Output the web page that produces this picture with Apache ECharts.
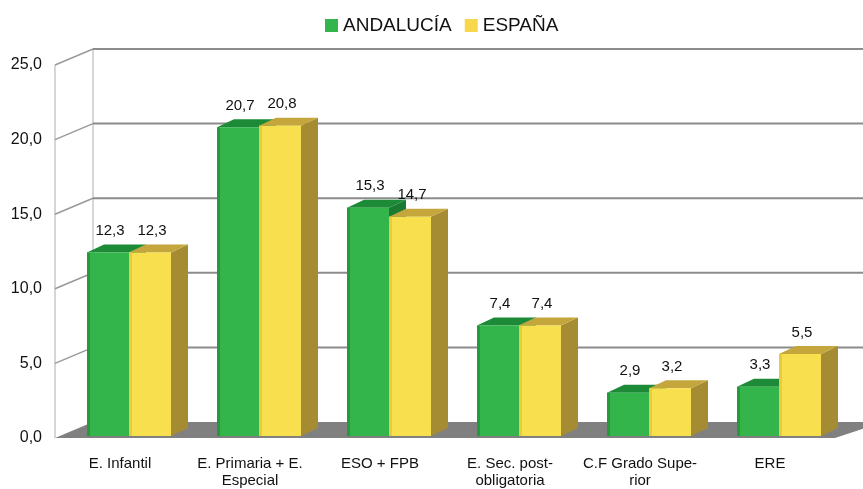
<!DOCTYPE html>
<html>
<head>
<meta charset="utf-8">
<script src="https://cdn.jsdelivr.net/npm/echarts@6/dist/echarts.min.js"></script>
<style>
  html, body { margin: 0; padding: 0; background: #fff; }
  #chart { width: 863px; height: 489px; }
</style>
</head>
<body>
<div id="chart"></div>
<script>
// datos
const categorias = [
  "E. Infantil",
  "E. Primaria + E.\nEspecial",
  "ESO + FPB",
  "E. Sec. post-\nobligatoria",
  "C.F Grado Supe-\nrior",
  "ERE"
];
const andalucia = [12.3, 20.7, 15.3, 7.4, 2.9, 3.3];
const espana = [12.3, 20.8, 14.7, 7.4, 3.2, 5.5];
const yTicks = [0, 5, 10, 15, 20, 25];

// profundidad de la caja 3D y de las barras
const WALL_DX = 38, WALL_DY = -16;
const BAR_DX = 17, BAR_DY = -8;
const BAR_OFF_X = 9, BAR_OFF_Y = -2;

const colores = [
  { front: "#33b54c", top: "#1d8a37", side: "#1a7a31", edge: "#249a3c" },
  { front: "#f8df4e", top: "#c4a63c", side: "#a58c33", edge: "#e8cc3e" }
];

const fmt = (v) => v.toFixed(1).replace(".", ",");

const chart = echarts.init(document.getElementById("chart"));

// barras con caras frontal, superior y lateral
const barra3d = (idx) => (params, api) => {
  const c = colores[idx];
  const band = api.size([1, 0])[0];
  const w = band * 0.323;
  const cx = api.coord([api.value(0), 0])[0];
  const left = cx - w + idx * w + BAR_OFF_X;
  const top = api.coord([api.value(0), api.value(1)])[1] + BAR_OFF_Y;
  const bottom = api.coord([api.value(0), 0])[1] + BAR_OFF_Y;
  const right = left + w;
  return {
    type: "group",
    children: [
      {
        type: "polygon",
        shape: { points: [[right, top], [right + BAR_DX, top + BAR_DY], [right + BAR_DX, bottom + BAR_DY], [right, bottom]] },
        style: { fill: c.side }
      },
      {
        type: "polygon",
        shape: { points: [[left, top], [left + BAR_DX, top + BAR_DY], [right + BAR_DX, top + BAR_DY], [right, top]] },
        style: { fill: c.top }
      },
      {
        type: "rect",
        shape: { x: left, y: top, width: w, height: bottom - top },
        style: { fill: c.front }
      },
      {
        type: "rect",
        shape: { x: left, y: top, width: 3, height: bottom - top },
        style: { fill: c.edge }
      },
      {
        type: "text",
        style: {
          text: fmt(api.value(1)),
          x: left + w / 2 + 2,
          y: top + BAR_DY - 6,
          align: "center",
          verticalAlign: "bottom",
          fill: "#111",
          font: "15px 'Liberation Sans', Arial, sans-serif"
        }
      }
    ]
  };
};

// paredes, rejilla y suelo
const paredes = (params, api) => {
  const cs = params.coordSys;
  const v = api.value(1);
  const y = api.coord([0, v])[1];
  const x0 = cs.x;
  const children = [];
  if (v === 0) {
    children.push({
      type: "polygon",
      shape: { points: [[x0, y], [x0 + WALL_DX, y + WALL_DY], [x0 + cs.width + WALL_DX + 10, y + WALL_DY], [x0 + cs.width, y]] },
      style: { fill: "#808080" }
    });
    const yTop = api.coord([0, 25])[1];
    children.push({
      type: "line",
      shape: { x1: x0, y1: yTop, x2: x0, y2: y },
      style: { stroke: "#c8c8c8", lineWidth: 1.5 }
    });
    children.push({
      type: "line",
      shape: { x1: x0 + WALL_DX, y1: yTop + WALL_DY, x2: x0 + WALL_DX, y2: y + WALL_DY },
      style: { stroke: "#c8c8c8", lineWidth: 1.5 }
    });
  } else {
    children.push({
      type: "line",
      shape: { x1: x0, y1: y, x2: x0 + WALL_DX, y2: y + WALL_DY },
      style: { stroke: "#9a9a9a", lineWidth: 1.5 }
    });
    children.push({
      type: "line",
      shape: { x1: x0 + WALL_DX, y1: y + WALL_DY, x2: 870, y2: y + WALL_DY },
      style: { stroke: "#8c8c8c", lineWidth: 2 }
    });
  }
  return { type: "group", children };
};

chart.setOption({
  animation: false,
  textStyle: { fontFamily: "'Liberation Sans', Arial, sans-serif" },
  legend: {
    data: ["ANDALUCÍA", "ESPAÑA"],
    top: 11,
    left: 320,
    icon: "rect",
    itemWidth: 13,
    itemHeight: 13,
    itemGap: 13,
    textStyle: { fontSize: 19, color: "#111" }
  },
  grid: { left: 55, right: 28, top: 65, bottom: 51 },
  xAxis: {
    type: "category",
    data: categorias,
    axisLine: { show: false },
    axisTick: { show: false },
    axisLabel: { fontSize: 15, color: "#111", margin: 17, interval: 0, lineHeight: 17 }
  },
  yAxis: {
    type: "value",
    min: 0,
    max: 25,
    interval: 5,
    axisLine: { show: false },
    axisTick: { show: false },
    splitLine: { show: false },
    axisLabel: { fontSize: 16, color: "#111", margin: 13, formatter: fmt }
  },
  series: [
    {
      type: "custom",
      name: "paredes",
      z: 1,
      silent: true,
      renderItem: paredes,
      data: yTicks.map((v) => [0, v])
    },
    {
      type: "custom",
      name: "ANDALUCÍA",
      z: 2,
      itemStyle: { color: colores[0].front },
      renderItem: barra3d(0),
      data: andalucia.map((v, i) => [i, v])
    },
    {
      type: "custom",
      name: "ESPAÑA",
      z: 3,
      itemStyle: { color: "#f9d74c" },
      renderItem: barra3d(1),
      data: espana.map((v, i) => [i, v])
    }
  ]
});
</script>
</body>
</html>
